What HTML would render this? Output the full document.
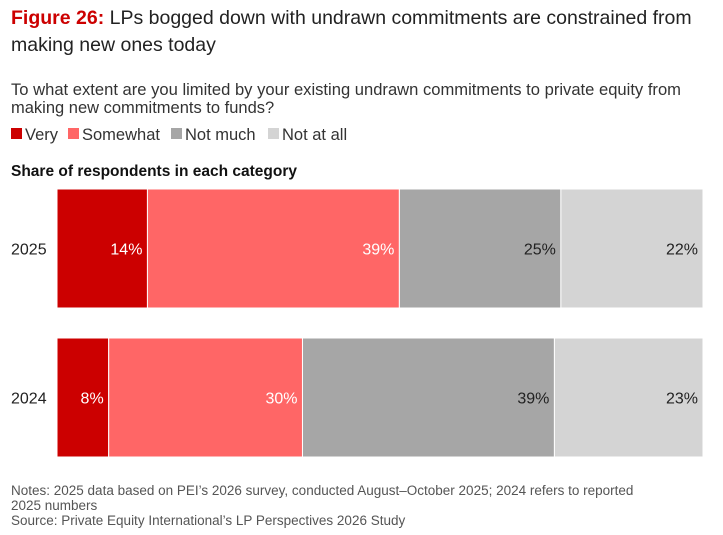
<!DOCTYPE html>
<html><head><meta charset="utf-8"><style>
body{margin:0;background:#fff;}
svg{display:block;font-family:"Liberation Sans",sans-serif;}
</style></head><body>
<svg width="723" height="535" viewBox="0 0 723 535">
<text x="11" y="24" font-size="19.5" fill="#222"><tspan fill="#cc0000" font-weight="bold">Figure 26:</tspan> LPs bogged down with undrawn commitments are constrained from</text>
<text x="11" y="51" font-size="19.5" fill="#222">making new ones today</text>
<text x="11" y="95" font-size="16.5" fill="#333" textLength="670" lengthAdjust="spacingAndGlyphs">To what extent are you limited by your existing undrawn commitments to private equity from</text>
<text x="11" y="113" font-size="16.5" fill="#333">making new commitments to funds?</text>
<g id="legend"></g>
<text x="11" y="176" font-size="15.5" font-weight="bold" fill="#111">Share of respondents in each category</text>
<g id="bars"></g>
<text x="11" y="495" font-size="13.5" fill="#555">Notes: 2025 data based on PEI’s 2026 survey, conducted August–October 2025; 2024 refers to reported</text>
<text x="11" y="510" font-size="13.5" fill="#555">2025 numbers</text>
<text x="11" y="525" font-size="13.5" fill="#555">Source: Private Equity International’s LP Perspectives 2026 Study</text>
</svg>
<script>
const categories = ["2025","2024"];
const seriesNames = ["Very","Somewhat","Not much","Not at all"];
const veryVals = [14, 8];
const somewhatVals = [39, 30];
const notMuchVals = [25, 39];
const notAtAllVals = [22, 23];
const series=[veryVals,somewhatVals,notMuchVals,notAtAllVals];
const colors=["#cc0000","#ff6666","#a6a6a6","#d4d4d4"];
const textColors=["#fff","#fff","#222","#222"];
const NS="http://www.w3.org/2000/svg";
const x0=57,x1=703;
const xs=v=>x0+(x1-x0)*v/100;
const rowTop=[189,338], barH=119;
function mk(t,a){const e=document.createElementNS(NS,t);for(const k in a)e.setAttribute(k,a[k]);return e;}
const lg=document.getElementById('legend');
const lx=[11,68,171,268];
seriesNames.forEach((n,i)=>{
  const r=mk('rect',{x:lx[i],y:128,width:11,height:11,fill:colors[i]});
  
  
  lg.appendChild(r);
  const t=mk('text',{x:lx[i]+14,y:140,'font-size':16.5,fill:'#333'});t.textContent=n;
  
  
  lg.appendChild(t);
});
const g=document.getElementById('bars');
categories.forEach((c,ci)=>{
  const y=rowTop[ci];
  const lab=mk('text',{x:11,y:y+barH/2+6,'font-size':16,fill:'#222'});lab.textContent=c;
  
  
  g.appendChild(lab);
  let cum=0;
  series.forEach((s,si)=>{
    const v=s[ci];
    const r=mk('rect',{x:xs(cum),y:y,width:xs(cum+v)-xs(cum),height:barH,fill:colors[si],stroke:'#fff','stroke-width':1});
    
    
    g.appendChild(r);
    cum+=v;
    const t=mk('text',{x:xs(cum)-5,y:y+barH/2+6,'font-size':16,fill:textColors[si],'text-anchor':'end'});
    t.textContent=v+'%';
    
    
    g.appendChild(t);
  });
});
</script>
</body></html>
